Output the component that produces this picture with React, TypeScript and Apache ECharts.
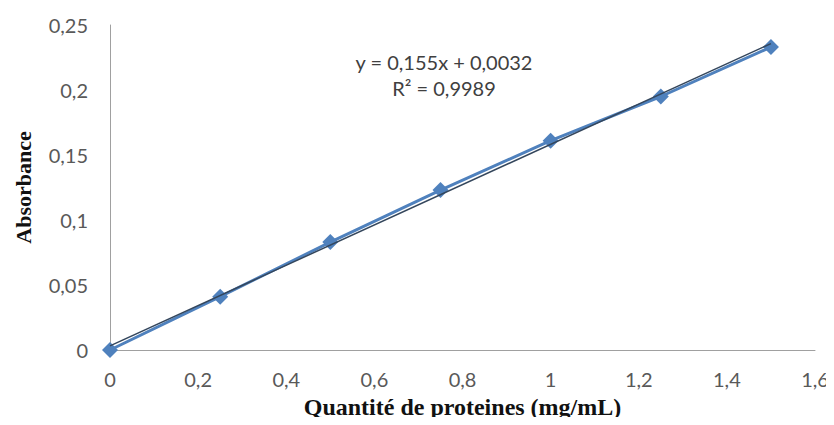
import React, { useEffect, useRef } from "react";
import * as echarts from "echarts";

const xValues = [0, 0.25, 0.5, 0.75, 1.0, 1.25, 1.5];
const absorbance = [0, 0.041, 0.083, 0.123, 0.161, 0.195, 0.233];
const slope = 0.155;
const intercept = 0.0032;
const trendX = [0, 1.5];
const equationText = "y = 0,155x + 0,0032";
const r2Text = "R² = 0,9989";

const fmt = (v: number) => String(Math.round(v * 1000) / 1000).replace(".", ",");

export default function App() {
  const ref = useRef<HTMLDivElement>(null);
  useEffect(() => {
    if (!ref.current) return;
    const chart = echarts.init(ref.current, undefined, { renderer: "svg" });
    const points = xValues.map((x, i) => [x, absorbance[i]]);
    const trend = trendX.map((x) => [x, slope * x + intercept]);
    chart.setOption({
      animation: false,
      backgroundColor: "#ffffff",
      grid: { left: 110, right: 19, top: 25, bottom: 75, containLabel: false, outerBoundsMode: "none" },
      xAxis: {
        type: "value",
        min: 0,
        max: 1.6,
        interval: 0.2,
        name: "Quantité de proteines (mg/mL)",
        nameLocation: "middle",
        nameGap: 45,
        nameTextStyle: { fontFamily: "Liberation Serif", fontWeight: "bold", fontSize: 24, color: "#111" },
        axisLine: { show: true, lineStyle: { color: "#a0a0a0", width: 1 } },
        axisTick: { show: false },
        splitLine: { show: false },
        axisLabel: { formatter: fmt, fontFamily: "Lato", fontSize: 20, color: "#595959", margin: 19 },
      },
      yAxis: {
        type: "value",
        min: 0,
        max: 0.25,
        interval: 0.05,
        name: "Absorbance",
        nameLocation: "middle",
        nameGap: 76,
        nameTextStyle: { fontFamily: "Liberation Serif", fontWeight: "bold", fontSize: 22, color: "#111" },
        axisLine: { show: true, lineStyle: { color: "#a0a0a0", width: 1 } },
        axisTick: { show: false },
        splitLine: { show: false },
        axisLabel: { formatter: fmt, fontFamily: "Lato", fontSize: 20, color: "#595959", margin: 22 },
      },
      series: [
        {
          type: "line",
          data: points,
          symbol: "diamond",
          symbolSize: 16,
          itemStyle: { color: "#4F81BD" },
          lineStyle: { color: "#4F81BD", width: 3 },
          z: 2,
        },
        {
          type: "line",
          data: trend,
          symbol: "none",
          lineStyle: { color: "#34465c", width: 1.5 },
          z: 3,
        },
      ],
      graphic: [
        {
          type: "text",
          x: 444,
          y: 62,
          style: { text: equationText, fontFamily: "Lato", fontSize: 20, fill: "#404040", textAlign: "center", textVerticalAlign: "middle" },
        },
        {
          type: "text",
          x: 444,
          y: 88,
          style: { text: r2Text, fontFamily: "Lato", fontSize: 20, fill: "#404040", textAlign: "center", textVerticalAlign: "middle" },
        },
      ],
    });
    return () => chart.dispose();
  }, []);
  return <div ref={ref} style={{ width: 834, height: 425, margin: -8 }} />;
}
